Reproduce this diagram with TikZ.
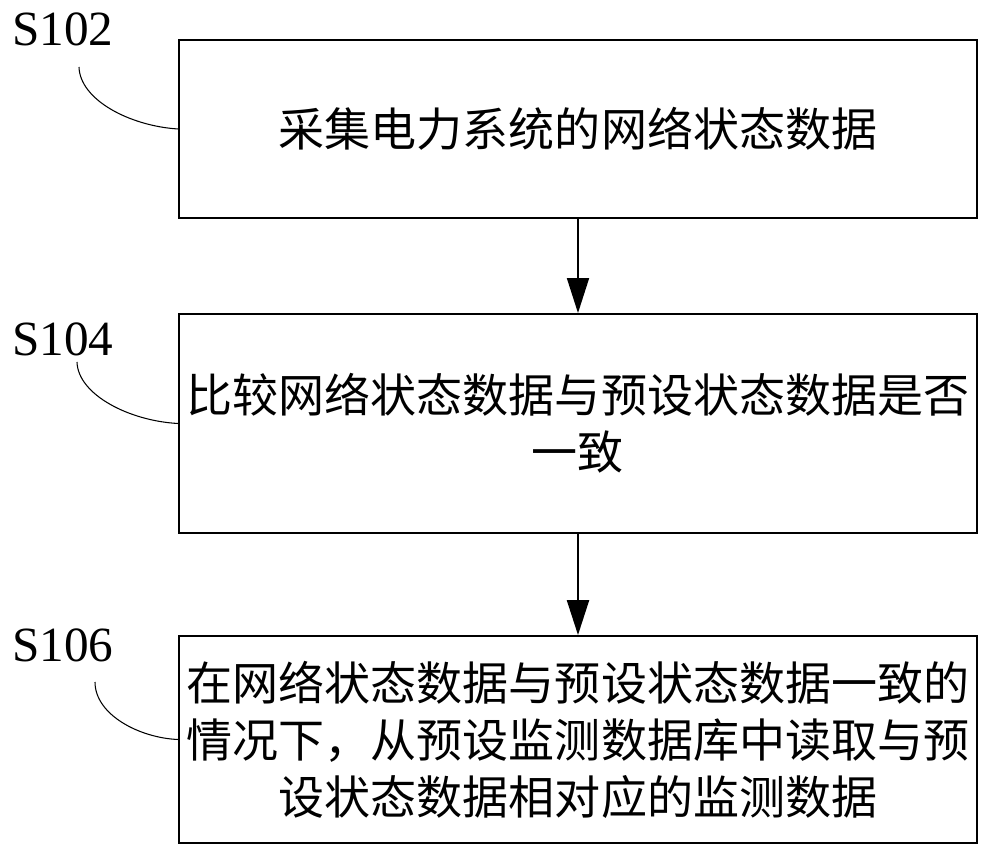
\documentclass[tikz,border=0pt]{standalone}
\usepackage{fontspec}
\setmainfont{Liberation Serif}
\newfontfamily\cjk{Noto Sans CJK SC}
\usetikzlibrary{arrows.meta}
\begin{document}
\begin{tikzpicture}[x=0.02cm,y=-0.02cm,
  stepbox/.style={draw, line width=1.1pt, minimum width=15.96cm, inner sep=0pt, align=center,
    font=\cjk\fontsize{26.2}{32.4}\selectfont},
  arr/.style={-{Triangle[width=0.44cm,length=0.7cm]}, line width=1pt},
  lab/.style={anchor=base west, inner sep=0pt, font=\fontsize{28}{30}\selectfont},
  curve/.style={line width=0.6pt}]
\useasboundingbox (0,0) rectangle (995,858);
\node[stepbox, minimum height=3.56cm] (box1) at (578,129) {采集电力系统的网络状态数据};
\node[stepbox, minimum height=4.38cm] (box2) at (578,423.5) {比较网络状态数据与预设状态数据是否\\一致};
\node[stepbox, minimum height=4.14cm] (box3) at (578,739.5) {在网络状态数据与预设状态数据一致的\\情况下，从预设监测数据库中读取与预\\设状态数据相对应的监测数据};
\draw[arr] (box1.south) -- (box2.north);
\draw[arr, line width=1.3pt] (box2.south) -- (box3.north);
\node[lab] (l1) at (12,46) {S102};
\node[lab] (l2) at (12,356) {S104};
\node[lab] (l3) at (12,661) {S106};
\coordinate (c1) at (79,67);
\coordinate (c2) at (77,362);
\coordinate (c3) at (95,682);
\draw[curve] (c1) .. controls (80,100) and (130,126) .. (box1.west);
\draw[curve] (c2) .. controls (78,395) and (130,421) .. (box2.west);
\draw[curve] (c3) .. controls (95,715) and (140,738) .. (box3.west);
\end{tikzpicture}
\end{document}
